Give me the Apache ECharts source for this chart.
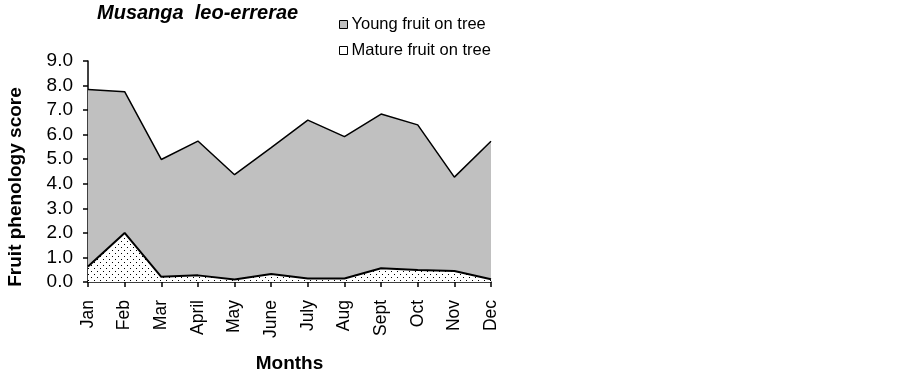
<!DOCTYPE html>
<html><head><meta charset="utf-8">
<script src="https://cdn.jsdelivr.net/npm/echarts@6/dist/echarts.min.js"></script>
<style>html,body{margin:0;padding:0;background:#fff}#c{width:902px;height:372px}</style>
</head><body><div id="c"></div>
<script>
const months = ['Jan','Feb','Mar','April','May','June','July','Aug','Sept','Oct','Nov','Dec'];
const youngFruit = [7.84,7.75,4.99,5.74,4.37,5.47,6.59,5.92,6.84,6.40,4.27,5.73];
const matureFruit = [0.63,2.00,0.21,0.27,0.10,0.33,0.14,0.14,0.56,0.49,0.45,0.11];
const yTicks = [0,1,2,3,4,5,6,7,8,9];

const pc = document.createElement('canvas');
pc.width = 6; pc.height = 6;
const g = pc.getContext('2d');
g.fillStyle = '#fff'; g.fillRect(0,0,6,6);
g.fillStyle = '#000'; g.fillRect(1,1,1,1); g.fillRect(4,4,1,1);
const dots = {image: pc, repeat: 'repeat'};

const chart = echarts.init(document.getElementById('c'));
const font = 'Liberation Sans, Arial, sans-serif';
chart.setOption({
  animation: false,
  title: {text: 'Musanga  leo-errerae', left: 92, top: -2,
    textStyle: {fontFamily: font, fontSize: 20, fontWeight: 'bold', fontStyle: 'italic', color: '#000'}},
  legend: {orient: 'vertical', left: 334, top: 11, itemGap: 9, itemWidth: 8, itemHeight: 8,
    textStyle: {fontFamily: font, fontSize: 16.5, color: '#000', padding: [0,0,0,-1]},
    data: [
      {name: 'Young fruit on tree', icon: 'rect', itemStyle: {color: '#c0c0c0', borderColor: '#000', borderWidth: 1}},
      {name: 'Mature fruit on tree', icon: 'rect', itemStyle: {color: '#fff', borderColor: '#000', borderWidth: 1}}
    ]},
  graphic: [{type: 'text', x: 16, y: 187, rotation: Math.PI / 2,
    style: {text: 'Fruit phenology score', fontFamily: font, fontSize: 19, fontWeight: 'bold',
      fill: '#000', align: 'center', verticalAlign: 'middle'}}],
  grid: {left: 88, right: 411, top: 61, bottom: 90, containLabel: false, outerBoundsMode: 'none'},
  xAxis: {type: 'category', data: months, boundaryGap: false,
    name: 'Months', nameLocation: 'middle', nameGap: 72,
    nameTextStyle: {fontFamily: font, fontSize: 19, fontWeight: 'bold', color: '#000'},
    axisLine: {lineStyle: {color: '#000', width: 1.5}},
    axisTick: {length: 5, lineStyle: {color: '#000', width: 1.5}, alignWithLabel: true},
    axisLabel: {rotate: 90, fontFamily: font, fontSize: 17.5, color: '#000', margin: 18, interval: 0},
    splitLine: {show: false}},
  yAxis: {type: 'value', min: 0, max: 9, interval: 1,
    axisLine: {show: true, lineStyle: {color: '#000', width: 1.5}},
    axisTick: {show: true, length: 5, lineStyle: {color: '#000', width: 1.5}},
    axisLabel: {fontFamily: font, fontSize: 19, color: '#000', margin: 15,
      formatter: v => yTicks.includes(v) ? v.toFixed(1) : ''},
    splitLine: {show: false}},
  series: [
    {name: 'Young fruit on tree', type: 'line', data: youngFruit, symbol: 'none',
      lineStyle: {color: '#000', width: 1.5}, itemStyle: {color: '#c0c0c0'},
      areaStyle: {color: '#c0c0c0', opacity: 1}, z: 2},
    {name: 'Mature fruit on tree', type: 'line', data: matureFruit, symbol: 'none',
      lineStyle: {color: '#000', width: 2}, itemStyle: {color: '#fff'},
      areaStyle: {color: dots, opacity: 1}, z: 3}
  ]
});
</script></body></html>
